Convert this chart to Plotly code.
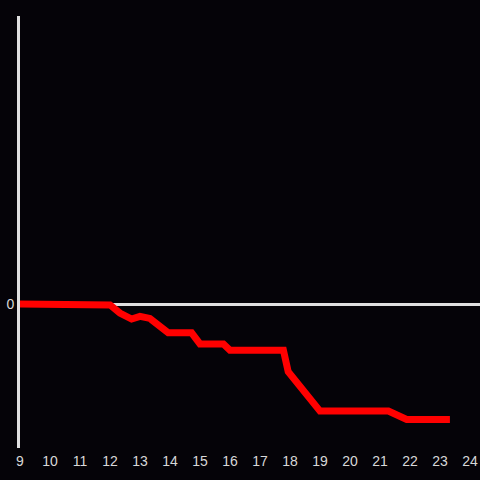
import plotly.graph_objects as go

hours = [9.0, 11.8, 12.0, 12.33, 12.72, 13.0, 13.33, 13.94, 14.72, 15.0, 15.78,
         16.0, 17.78, 17.94, 18.78, 19.0, 21.28, 21.89, 23.33]
values = [0.0, 0.0, -0.03, -0.3, -0.5, -0.41, -0.48, -0.96, -0.96, -1.33, -1.33,
          -1.54, -1.54, -2.26, -3.37, -3.57, -3.57, -3.85, -3.85]
x_ticks = list(range(9, 25))

fig = go.Figure()
fig.add_trace(go.Scatter(x=hours, y=values, mode="lines",
                         line=dict(color="#ff0000", width=7), showlegend=False,
                         hoverinfo="skip"))

bg = "#050308"
fig.update_layout(
    width=480, height=480,
    paper_bgcolor=bg, plot_bgcolor=bg,
    margin=dict(l=20, r=0, t=16, b=32),
    font=dict(family="Liberation Sans, Arial, sans-serif", size=14, color="#d8d8d8"),
    xaxis=dict(range=[9, 24.333], tickvals=x_ticks, showgrid=False, zeroline=False,
               showline=False, ticks="", ticklabelstandoff=3,
               tickfont=dict(size=14, color="#d8d8d8")),
    yaxis=dict(range=[-4.8, 9.6], tickvals=[0], showgrid=False, zeroline=True,
               zerolinecolor="#e0e0e0", zerolinewidth=3, showline=True,
               linecolor="#e0e0e0", linewidth=3, ticks="",
               tickfont=dict(size=14, color="#d8d8d8")),
)
fig.write_html("out.html", config={"displayModeBar": False},
               post_script="document.body.style.margin='0';document.body.style.background='%s';" % bg)
